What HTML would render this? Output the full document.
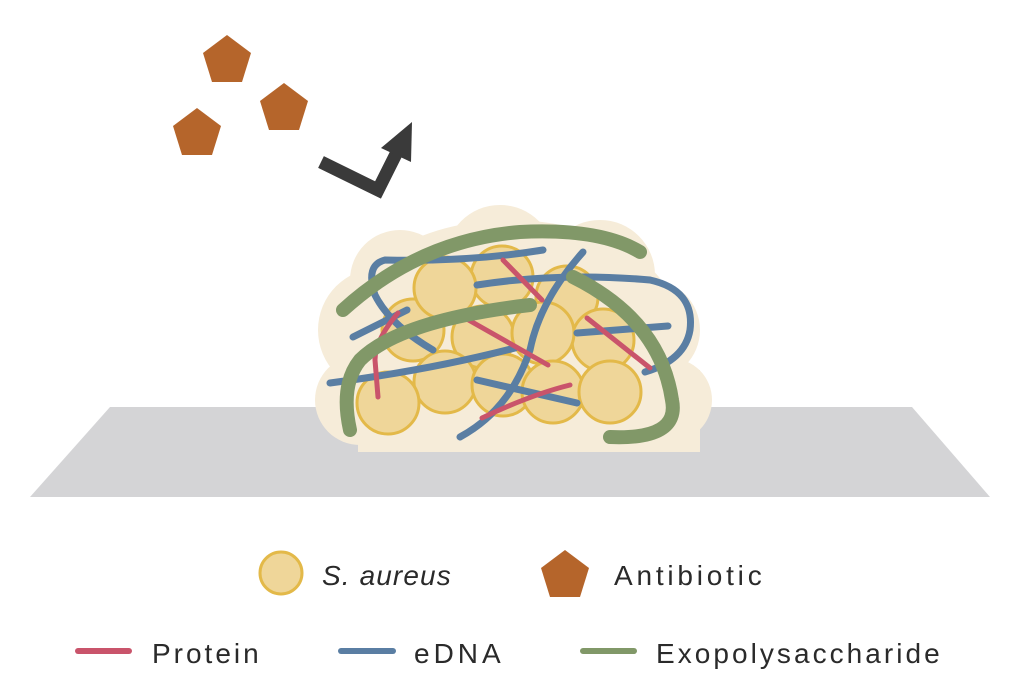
<!DOCTYPE html>
<html><head><meta charset="utf-8"><style>
html,body{margin:0;padding:0;background:#fff;}
svg{display:block;}
text{font-family:"Liberation Sans",sans-serif;fill:#2a2a2a;font-size:28px;letter-spacing:2.3px;}
</style></head><body>
<svg width="1024" height="697" viewBox="0 0 1024 697" xmlns="http://www.w3.org/2000/svg">
<polygon points="110,407 912,407 990,497 30,497" fill="#d4d4d6"/>
<g fill="#f6ecd9">
<ellipse cx="510" cy="330" rx="170" ry="110"/>
<circle cx="380" cy="330" r="62"/>
<circle cx="400" cy="280" r="50"/>
<circle cx="500" cy="260" r="55"/>
<circle cx="600" cy="275" r="55"/>
<circle cx="650" cy="330" r="50"/>
<circle cx="670" cy="400" r="42"/>
<circle cx="360" cy="400" r="45"/>
<rect x="358" y="370" width="342" height="82"/>
</g>
<g fill="#efd699" stroke="#e3b949" stroke-width="3">
<circle cx="502" cy="277" r="31"/>
<circle cx="567" cy="297" r="31"/>
<circle cx="413" cy="330" r="31"/>
<circle cx="483" cy="337" r="31"/>
<circle cx="603" cy="340" r="31"/>
<circle cx="445" cy="288" r="31"/>
<circle cx="543" cy="333" r="31"/>
<circle cx="445" cy="382" r="31"/>
<circle cx="503" cy="385" r="31"/>
<circle cx="553" cy="392" r="31"/>
<circle cx="610" cy="392" r="31"/>
<circle cx="388" cy="403" r="31"/>
</g>
<g fill="none" stroke-linecap="round">
<g stroke="#5a7ea3" stroke-width="7">
<path d="M543,250 Q470,262 385,260 Q365,265 375,295 Q390,325 433,350"/>
<path d="M477,285 Q560,272 650,280 Q695,290 690,330 Q685,360 645,372"/>
<path d="M583,252 Q540,300 530,350 Q510,410 460,437"/>
<path d="M353,337 L407,310"/>
<path d="M330,383 Q430,370 515,348"/>
<path d="M577,333 L668,326"/>
<path d="M477,380 L577,403"/>
</g>
<g stroke="#c9546b" stroke-width="5">
<path d="M503,260 L542,300"/>
<path d="M398,313 Q375,340 375,360 L378,397"/>
<path d="M465,318 L548,365"/>
<path d="M587,318 L650,368"/>
<path d="M482,418 Q530,395 570,385"/>
</g>
<g stroke="#819868" stroke-width="14">
<path d="M343,310 Q420,240 520,232 Q600,228 640,252"/>
<path d="M530,305 Q400,320 360,360 Q340,385 350,430"/>
<path d="M573,277 Q660,320 672,400 Q680,440 610,437"/>
</g>
</g>
<g fill="#b5652b">
<polygon points="227,35 251,53 242,82 212,82 203,53"/>
<polygon points="284,83 308,101 299,130 269,130 260,101"/>
<polygon points="197,108 221,126 212,155 182,155 173,126"/>
</g>
<polyline points="321,162 378,190 398,150" fill="none" stroke="#3a3a3a" stroke-width="13" stroke-linejoin="miter"/>
<polygon points="412,122 381,148 411,162" fill="#3a3a3a"/>
<circle cx="281" cy="573" r="21" fill="#efd699" stroke="#e3b949" stroke-width="3"/>
<text x="322" y="585" font-style="italic" textLength="131">S. aureus</text>
<polygon points="565,550 589,568 580,597 550,597 541,568" fill="#b5652b"/>
<text x="614" y="585" textLength="150">Antibiotic</text>
<line x1="78" y1="651" x2="129" y2="651" stroke="#c9546b" stroke-width="6" stroke-linecap="round"/>
<text x="152" y="663" textLength="109">Protein</text>
<line x1="341" y1="651" x2="393" y2="651" stroke="#5a7ea3" stroke-width="6" stroke-linecap="round"/>
<text x="414" y="663" textLength="89">eDNA</text>
<line x1="583" y1="651" x2="634" y2="651" stroke="#819868" stroke-width="6" stroke-linecap="round"/>
<text x="656" y="663" textLength="286">Exopolysaccharide</text>
</svg>
</body></html>
